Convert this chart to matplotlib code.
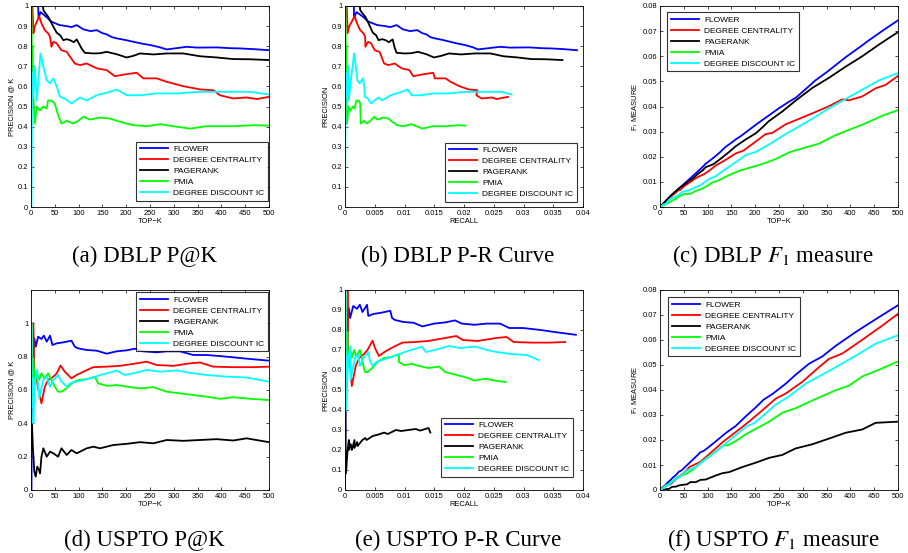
import matplotlib
matplotlib.use("Agg")
import matplotlib.pyplot as plt
import numpy as np
from matplotlib.ticker import FuncFormatter

plt.rcParams['font.family'] = ['Liberation Sans', 'DejaVu Sans']
plt.rcParams['mathtext.fontset'] = 'stix'

methods = ["FLOWER", "DEGREE CENTRALITY", "PAGERANK", "PMIA", "DEGREE DISCOUNT IC"]
colors = ["#0000ff", "#ff0000", "#000000", "#00ff00", "#00ffff"]

# number of relevant nodes (recall@500 = P@500*500/N)
n_relevant = 10000

# ---- DBLP precision @ K ----
dblp_flower_k = [1, 15, 16, 20, 25, 30, 35, 40, 45, 50, 60, 75, 85, 96, 110, 125, 138, 150, 159, 170,
                 180, 200, 215, 235, 250, 270, 285, 305, 327, 350, 390, 420, 439, 470, 500]
dblp_flower_p = [1.0, 1.0, 0.94, 0.97, 0.96, 0.95, 0.94, 0.927, 0.92, 0.915, 0.905, 0.90, 0.895, 0.905, 0.884, 0.875,
                 0.88, 0.865, 0.859, 0.845, 0.839, 0.83, 0.822, 0.812, 0.806, 0.795, 0.784, 0.79, 0.797, 0.793, 0.794, 0.79,
                 0.789, 0.785, 0.78]

dblp_degree_k = [1, 3, 5, 8, 12, 17, 22, 29, 36, 40, 43, 47, 54, 64, 75, 82, 92, 103, 117, 138, 159, 176,
                 201, 222, 236, 264, 285, 320, 355, 383, 397, 425, 453, 474, 500]
dblp_degree_p = [1.0, 1.0, 0.864, 0.90, 0.92, 0.95, 0.914, 0.88, 0.864, 0.847, 0.797, 0.822, 0.814, 0.78, 0.772, 0.748,
                 0.714, 0.706, 0.714, 0.69, 0.681, 0.651, 0.661, 0.668, 0.64, 0.64, 0.623, 0.601, 0.585, 0.581, 0.556,
                 0.54, 0.545, 0.537, 0.548]

dblp_pagerank_k = [1, 25, 26, 30, 36, 42, 47, 54, 61, 68, 75, 82, 90, 96, 106, 113, 131, 145, 159, 180, 201,
                   215, 229, 257, 285, 320, 355, 390, 425, 460, 500]
dblp_pagerank_p = [1.0, 1.0, 0.98, 0.965, 0.947, 0.92, 0.897, 0.867, 0.855, 0.83, 0.835, 0.83, 0.82, 0.834, 0.79, 0.767,
                   0.764, 0.765, 0.772, 0.76, 0.744, 0.752, 0.764, 0.759, 0.764, 0.764, 0.75, 0.744, 0.736, 0.735, 0.731]

dblp_pmia_k = [1, 2, 3, 4, 6, 8, 12, 19, 26, 33, 36, 43, 50, 57, 64, 75, 89, 100, 110, 124, 145, 166,
               187, 215, 243, 271, 299, 334, 369, 425, 467, 500]
dblp_pmia_p = [1.0, 0.67, 0.8, 0.6, 0.5, 0.415, 0.5, 0.48, 0.5, 0.49, 0.53, 0.53, 0.515, 0.457, 0.415, 0.429,
               0.415, 0.43, 0.449, 0.435, 0.445, 0.44, 0.424, 0.407, 0.402, 0.412, 0.402, 0.39, 0.402, 0.402, 0.407,
               0.405]

dblp_ddic_k = [1, 2, 3, 5, 8, 12, 15, 20, 26, 33, 40, 47, 54, 61, 71, 85, 103, 117, 138, 166, 180, 201,
               229, 264, 306, 355, 390, 425, 460, 500]
dblp_ddic_p = [0.0, 0.5, 0.67, 0.55, 0.70, 0.53, 0.615, 0.764, 0.70, 0.63, 0.615, 0.64, 0.60, 0.548, 0.54, 0.515,
               0.545, 0.53, 0.556, 0.573, 0.585, 0.556, 0.556, 0.565, 0.565, 0.573, 0.573, 0.573, 0.573, 0.56]

# ---- USPTO precision @ K ----
us_flower_k = [1, 2, 3, 5, 7, 10, 15, 22, 27, 33, 40, 45, 54, 68, 85, 92, 99, 117, 138, 159, 180, 201,
               218, 236, 264, 285, 313, 341, 369, 411, 453, 500]
us_flower_p = [0.0, 0.5, 0.67, 0.8, 0.91, 0.86, 0.92, 0.906, 0.926, 0.89, 0.926, 0.87, 0.88, 0.886, 0.896, 0.86,
               0.85, 0.84, 0.836, 0.818, 0.832, 0.838, 0.848, 0.832, 0.826, 0.832, 0.832, 0.81, 0.81, 0.80, 0.788,
               0.776]

us_degree_k = [1, 3, 5, 7, 12, 17, 22, 29, 36, 47, 54, 62, 71, 85, 96, 110, 131, 159, 187, 215, 243, 264,
               299, 334, 355, 383, 425, 467, 500]
us_degree_p = [1.0, 1.0, 1.0, 0.70, 0.66, 0.58, 0.52, 0.62, 0.66, 0.68, 0.70, 0.747, 0.71, 0.67, 0.69, 0.71,
               0.737, 0.74, 0.745, 0.757, 0.77, 0.75, 0.745, 0.76, 0.765, 0.74, 0.737, 0.737, 0.74]

us_pagerank_k = [2, 4, 7, 10, 13, 17, 19, 22, 26, 33, 40, 47, 57, 64, 75, 85, 96, 117, 131, 145, 173, 201,
                 229, 257, 285, 320, 355, 390, 425, 453, 500]
us_pagerank_p = [0.4, 0.25, 0.11, 0.08, 0.14, 0.12, 0.10, 0.20, 0.25, 0.20, 0.23, 0.22, 0.20, 0.25, 0.21, 0.24,
                 0.22, 0.25, 0.26, 0.25, 0.27, 0.277, 0.287, 0.28, 0.30, 0.295, 0.30, 0.305, 0.297, 0.31, 0.287]

us_pmia_k = [1, 3, 5, 8, 12, 17, 22, 28, 36, 43, 50, 57, 64, 75, 85, 99, 117, 134, 141, 159, 180, 201,
             229, 257, 285, 313, 341, 369, 397, 425, 460, 500]
us_pmia_p = [1.0, 0.67, 0.79, 0.62, 0.71, 0.66, 0.70, 0.67, 0.70, 0.66, 0.62, 0.59, 0.59, 0.61, 0.64, 0.66,
             0.665, 0.68, 0.64, 0.625, 0.63, 0.62, 0.61, 0.617, 0.59, 0.58, 0.57, 0.56, 0.547, 0.557, 0.547, 0.54]

us_ddic_k = [1, 2, 3, 5, 7, 9, 13, 17, 21, 26, 33, 40, 47, 57, 64, 75, 82, 96, 110, 131, 145, 166, 180,
             197, 215, 243, 271, 306, 341, 369, 411, 453, 500]
us_ddic_p = [1.0, 0.5, 0.67, 0.4, 0.57, 0.67, 0.72, 0.55, 0.60, 0.66, 0.68, 0.62, 0.66, 0.69, 0.65, 0.62,
             0.64, 0.65, 0.66, 0.675, 0.69, 0.705, 0.717, 0.69, 0.70, 0.72, 0.71, 0.717, 0.70, 0.69, 0.68, 0.675,
             0.65]

dblp = [(dblp_flower_k, dblp_flower_p), (dblp_degree_k, dblp_degree_p), (dblp_pagerank_k, dblp_pagerank_p),
        (dblp_pmia_k, dblp_pmia_p), (dblp_ddic_k, dblp_ddic_p)]
uspto = [(us_flower_k, us_flower_p), (us_degree_k, us_degree_p), (us_pagerank_k, us_pagerank_p),
         (us_pmia_k, us_pmia_p), (us_ddic_k, us_ddic_p)]

captions = ["(a) DBLP P@K", "(b) DBLP P-R Curve", "(c) DBLP $F_1$ measure",
            "(d) USPTO P@K", "(e) USPTO P-R Curve", "(f) USPTO $F_1$ measure"]

W, H = 908, 553
fig = plt.figure(figsize=(W / 100, H / 100), dpi=100)

lefts = [31, 345, 660]
tops = [6, 290]
bottoms = [207, 490]
aw = 238

fmt = FuncFormatter(lambda v, p: '%g' % round(v, 6))
fs = 5.4
lw = 1.3


def make_ax(col, row):
    l = lefts[col]
    ax = fig.add_axes([l / W, 1 - bottoms[row] / H, aw / W, (bottoms[row] - tops[row]) / H])
    ax.tick_params(direction='in', top=True, right=True, length=2.5, width=0.5, labelsize=fs, pad=2)
    for s in ax.spines.values():
        s.set_linewidth(0.6)
    ax.xaxis.set_major_formatter(fmt)
    ax.yaxis.set_major_formatter(fmt)
    return ax


legend_pos = {
    (0, 0): ('lower right', (0.996, 0.03)),
    (1, 0): ('lower right', (0.975, 0.025)),
    (2, 0): ('upper left', (0.03, 0.97)),
    (0, 1): ('upper right', (0.996, 0.99)),
    (1, 1): ('lower right', (0.958, 0.065)),
    (2, 1): ('upper left', (0.034, 0.965)),
}

for row, data in enumerate([dblp, uspto]):
    ax_pk = make_ax(0, row)
    ax_pr = make_ax(1, row)
    ax_f1 = make_ax(2, row)
    for (k, p), name, c in zip(data, methods, colors):
        k = np.array(k, dtype=float)
        p = np.array(p)
        recall = p * k / n_relevant
        f1 = np.where(p + recall > 0, 2 * p * recall / np.maximum(p + recall, 1e-12), 0)
        ax_pk.plot(k, p, color=c, lw=lw, label=name)
        ax_pr.plot(recall, p, color=c, lw=lw, label=name)
        ax_f1.plot(np.r_[0, k], np.r_[0, f1], color=c, lw=lw, label=name)

    ax_pk.set_xlim(0, 500)
    ax_pk.set_xticks(np.arange(0, 501, 50))
    if row == 0:
        ax_pk.set_ylim(0, 1)
        ax_pk.set_yticks(np.arange(0, 1.01, 0.1))
    else:
        ax_pk.set_ylim(0, 1.2)
        ax_pk.set_yticks(np.arange(0, 1.01, 0.2))
    ax_pk.set_xlabel("TOP\u2212K", fontsize=fs, labelpad=1)
    ax_pk.set_ylabel("PRECISION @ K", fontsize=fs, labelpad=2)

    ax_pr.set_xlim(0, 0.04)
    ax_pr.set_xticks(np.arange(0, 0.0401, 0.005))
    ax_pr.set_ylim(0, 1)
    ax_pr.set_yticks(np.arange(0, 1.01, 0.1))
    ax_pr.set_xlabel("RECALL", fontsize=fs, labelpad=1)
    ax_pr.set_ylabel("PRECISION", fontsize=fs, labelpad=2)

    ax_f1.set_xlim(0, 500)
    ax_f1.set_xticks(np.arange(0, 501, 50))
    ax_f1.set_ylim(0, 0.08)
    ax_f1.set_yticks(np.arange(0, 0.0801, 0.01))
    ax_f1.set_xlabel("TOP\u2212K", fontsize=fs, labelpad=1)
    ax_f1.set_ylabel("F$_1$ MEASURE", fontsize=fs, labelpad=2)

    for col, ax in enumerate([ax_pk, ax_pr, ax_f1]):
        loc, anchor = legend_pos[(col, row)]
        leg = ax.legend(loc=loc, bbox_to_anchor=anchor, fontsize=6.0, frameon=True, fancybox=False,
                        handlelength=3.4, borderpad=0.45, labelspacing=0.38, handletextpad=0.6,
                        borderaxespad=0)
        leg.get_frame().set_edgecolor('black')
        leg.get_frame().set_linewidth(0.8)

        cx = (lefts[col] + aw / 2 - 6) / W
        cy = 1 - (256 if row == 0 else 540) / H
        fig.text(cx, cy, captions[row * 3 + col], ha='center', va='center',
                 fontsize=16.5, family='Liberation Serif')

fig.savefig("out.png", dpi=100)
